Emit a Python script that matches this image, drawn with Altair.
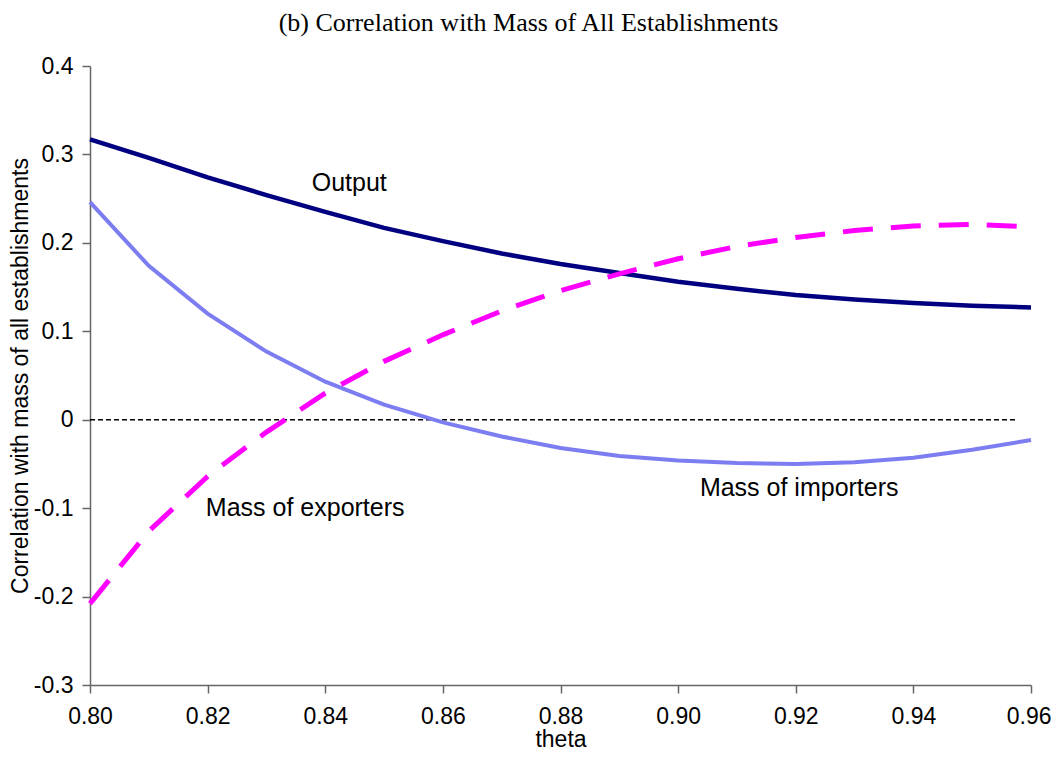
import altair as alt
import pandas as pd

# ---- data ----
theta = [0.80, 0.81, 0.82, 0.83, 0.84, 0.85, 0.86, 0.87, 0.88,
         0.89, 0.90, 0.91, 0.92, 0.93, 0.94, 0.95, 0.96]
output = [0.317, 0.296, 0.274, 0.254, 0.235, 0.217, 0.202, 0.188, 0.176,
          0.166, 0.156, 0.148, 0.141, 0.136, 0.132, 0.129, 0.127]
importers = [0.246, 0.174, 0.120, 0.077, 0.043, 0.017, -0.003, -0.019, -0.032,
             -0.041, -0.046, -0.049, -0.050, -0.048, -0.043, -0.034, -0.023]
exporters = [-0.208, -0.126, -0.064, -0.014, 0.030, 0.066, 0.096, 0.123, 0.146,
             0.165, 0.182, 0.196, 0.206, 0.214, 0.219, 0.221, 0.218]
zero_x = [0.80, 0.9575]
zero_y = [0.0, 0.0]

label_text = ["Output", "Mass of exporters", "Mass of importers"]
label_x = [0.8377, 0.8197, 0.9037]
label_y = [0.259, -0.1086, -0.086]

x_ticks = [0.80, 0.82, 0.84, 0.86, 0.88, 0.90, 0.92, 0.94, 0.96]
y_ticks = [-0.3, -0.2, -0.1, 0.0, 0.1, 0.2, 0.3, 0.4]

title_text = "(b) Correlation with Mass of All Establishments"

df = pd.DataFrame({"theta": theta, "output": output,
                   "importers": importers, "exporters": exporters})
zero_df = pd.DataFrame({"theta": zero_x, "v": zero_y})
lab_df = pd.DataFrame({"t": label_text, "x": label_x, "y": label_y})
title_df = pd.DataFrame({"t": [title_text]})

SANS = "Liberation Sans"

xscale = alt.Scale(domain=[0.80, 0.96], nice=False, zero=False)
yscale = alt.Scale(domain=[-0.3, 0.4], nice=False, zero=False)

last_x = "datum.value > 0.959"

xaxis = alt.Axis(values=x_ticks, format=".2f", title="theta", grid=False,
                 labelFont=SANS, labelFontSize=23, labelColor="black",
                 labelPadding=12, titleFont=SANS, titleFontSize=23,
                 titleFontWeight="normal", titleColor="black", titlePadding=0,
                 domainColor="#666666", domainWidth=1.5, tickColor="#666666",
                 tickWidth=1.5, tickSize=8, labelFlush=False,
                 labelAlign={"condition": {"test": last_x, "value": "right"},
                             "value": "center"},
                 labelOffset={"condition": {"test": last_x, "value": 20},
                              "value": 0})
yaxis = alt.Axis(values=y_ticks, grid=False,
                 labelExpr="datum.value == 0 ? '0' : (datum.value < 0 ? '-' + format(-datum.value, '.1f') : format(datum.value, '.1f'))",
                 title="Correlation with mass of all establishments",
                 labelFont=SANS, labelFontSize=23, labelColor="black",
                 labelPadding=9, titleFont=SANS, titleFontSize=23,
                 titleFontWeight="normal", titleColor="black", titlePadding=1,
                 domainColor="#666666", domainWidth=1.5, tickColor="#666666",
                 tickWidth=1.5, tickSize=8, labelFlush=False)

base = alt.Chart(df)

zero_line = alt.Chart(zero_df).mark_line(
    color="black", strokeWidth=1.5, strokeDash=[5, 3]
).encode(x=alt.X("theta:Q", scale=xscale, axis=xaxis),
         y=alt.Y("v:Q", scale=yscale, axis=yaxis))

out_line = base.mark_line(color="#000080", strokeWidth=4.5).encode(
    x=alt.X("theta:Q", scale=xscale), y=alt.Y("output:Q", scale=yscale))

imp_line = base.mark_line(color="#7d7df2", strokeWidth=4).encode(
    x=alt.X("theta:Q", scale=xscale), y=alt.Y("importers:Q", scale=yscale))

exp_line = base.mark_line(color="#ff00ff", strokeWidth=5,
                          strokeDash=[30, 18]).encode(
    x=alt.X("theta:Q", scale=xscale), y=alt.Y("exporters:Q", scale=yscale))

labels = alt.Chart(lab_df).mark_text(
    font=SANS, fontSize=25, color="black", align="left",
    baseline="alphabetic"
).encode(x=alt.X("x:Q", scale=xscale), y=alt.Y("y:Q", scale=yscale),
         text="t:N")

title = alt.Chart(title_df).mark_text(
    font="Liberation Serif", fontSize=26, color="black", align="center",
    baseline="alphabetic"
).encode(x=alt.value(438.5), y=alt.value(-35), text="t:N")

chart = alt.layer(zero_line, out_line, imp_line, exp_line, labels, title).properties(
    width=941, height=619,
    padding={"left": 82, "top": 58, "right": 20, "bottom": 67},
    autosize=alt.AutoSizeParams(type="none"),
    background="white",
).configure_view(stroke=None)

chart.save("out.html", embed_options={"renderer": "svg", "actions": False})
